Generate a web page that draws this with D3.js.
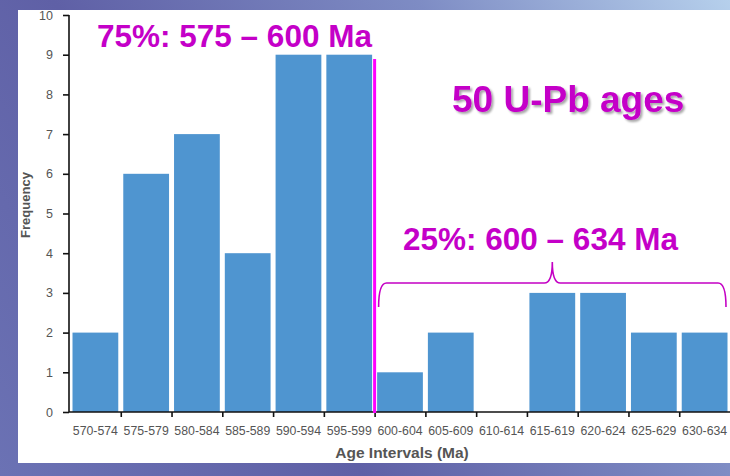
<!DOCTYPE html>
<html>
<head>
<meta charset="utf-8">
<script src="https://cdn.jsdelivr.net/npm/d3@7"></script>
<style>
  html, body { margin: 0; padding: 0; }
  body { width: 730px; height: 476px; overflow: hidden; }
  svg { display: block; font-family: "Liberation Sans", Arial, sans-serif; }
</style>
</head>
<body>
<svg id="chart" width="730" height="476"></svg>
<script>
// Zircon U-Pb age histogram (5 Ma bins)
const intervals = ["570-574", "575-579", "580-584", "585-589", "590-594", "595-599",
                   "600-604", "605-609", "610-614", "615-619", "620-624", "625-629", "630-634"];
const frequency = [2, 6, 7, 4, 9, 9, 1, 2, 0, 3, 3, 2, 2];
const yTicks = [0, 1, 2, 3, 4, 5, 6, 7, 8, 9, 10];
const olderLabel = "75%: 575 – 600 Ma";
const youngerLabel = "25%: 600 – 634 Ma";
const totalLabel = "50 U-Pb ages";
const splitInterval = "600-604";

const W = 730, H = 476;
const svg = d3.select("#chart");

// slide background
const defs = svg.append("defs");
const bg = defs.append("linearGradient").attr("id", "bg")
  .attr("gradientUnits", "userSpaceOnUse")
  .attr("x1", 0).attr("y1", H).attr("x2", W).attr("y2", 0);
bg.append("stop").attr("offset", 0).attr("stop-color", "#6b72b4");
bg.append("stop").attr("offset", 0.35).attr("stop-color", "#5f60a6");
bg.append("stop").attr("offset", 0.7).attr("stop-color", "#7e8cc4");
bg.append("stop").attr("offset", 1).attr("stop-color", "#b6d0ec");
svg.append("rect").attr("width", W).attr("height", H).attr("fill", "url(#bg)");

const shadow = defs.append("filter").attr("id", "shadow")
  .attr("x", "-10%").attr("y", "-20%").attr("width", "130%").attr("height", "150%");
shadow.append("feDropShadow").attr("dx", 2).attr("dy", 2).attr("stdDeviation", 1.2)
  .attr("flood-color", "#000").attr("flood-opacity", 0.35);

// white chart panel
svg.append("rect").attr("x", 18).attr("y", 10).attr("width", W - 18).attr("height", 453)
  .attr("fill", "#ffffff");

const x0 = 70, x1 = 730, yBase = 412, yTop = 15;
const x = d3.scaleBand().domain(intervals).range([x0, x1]).padding(0);
const xEdge = d3.scaleLinear().domain([0, intervals.length]).range([x0, x1]);
const y = d3.scaleLinear().domain([0, 10]).range([yBase, yTop]);
const bw = x.bandwidth();

// bars
svg.append("g").selectAll("rect").data(intervals).join("rect")
  .attr("x", d => x(d) + 2.5)
  .attr("width", bw - 5)
  .attr("y", (d, i) => y(frequency[i]))
  .attr("height", (d, i) => y(0) - y(frequency[i]))
  .attr("fill", "#4f95d0");

// y axis
const yAxis = svg.append("g").attr("transform", `translate(${x0 - 1},0)`)
  .call(d3.axisLeft(y).tickValues(yTicks).tickFormat(d3.format("d")).tickSize(6).tickPadding(10));
yAxis.select(".domain").attr("stroke", "#111").attr("stroke-width", 1.6)
  .attr("d", `M0,${yTop}V${yBase}`);
yAxis.selectAll(".tick line").attr("stroke", "#111").attr("stroke-width", 1.6);
yAxis.selectAll(".tick text").attr("fill", "#555").attr("font-size", 12.5)
  .attr("font-family", "'Liberation Sans', Arial, sans-serif");

// x axis: boundary ticks
const xTickAxis = svg.append("g").attr("transform", `translate(0,${yBase})`)
  .call(d3.axisBottom(xEdge).tickValues(d3.range(1, intervals.length)).tickFormat("").tickSize(5));
xTickAxis.select(".domain").attr("stroke", "#111").attr("stroke-width", 1.6)
  .attr("d", `M${x0 - 1},0H${x1}`);
xTickAxis.selectAll(".tick line").attr("stroke", "#111").attr("stroke-width", 1.6);

// x axis: interval labels
const xLab = svg.append("g").attr("transform", `translate(0,${yBase})`)
  .call(d3.axisBottom(x).tickSize(0).tickPadding(14));
xLab.select(".domain").remove();
xLab.selectAll(".tick text").attr("fill", "#555").attr("font-size", 12.3)
  .attr("font-family", "'Liberation Sans', Arial, sans-serif");

// axis titles
svg.append("text").attr("transform", "translate(30,205) rotate(-90)")
  .attr("text-anchor", "middle").attr("font-size", 13).attr("font-weight", "bold")
  .attr("fill", "#555").text("Frequency");
svg.append("text").attr("x", 402).attr("y", 458)
  .attr("text-anchor", "middle").attr("font-size", 15.5).attr("font-weight", "bold")
  .attr("fill", "#555").text("Age Intervals (Ma)");

// split line between older and younger populations
const xs = x(splitInterval);
svg.append("line").attr("x1", xs).attr("x2", xs).attr("y1", 59).attr("y2", yBase + 1)
  .attr("stroke", "#ff00ff").attr("stroke-width", 3);

// brace over younger intervals
const bL = x(splitInterval) + 4, bR = x(intervals[intervals.length - 1]) + bw - 4;
const bMid = (bL + bR) / 2, bY = 283, bBot = 307, tipY = 262;
const brace = d3.path();
brace.moveTo(bL, bBot);
brace.quadraticCurveTo(bL, bY, bL + 8, bY);
brace.lineTo(bMid - 8, bY);
brace.quadraticCurveTo(bMid, bY, bMid, tipY);
brace.quadraticCurveTo(bMid, bY, bMid + 8, bY);
brace.lineTo(bR - 8, bY);
brace.quadraticCurveTo(bR, bY, bR, bBot);
svg.append("path").attr("d", brace.toString()).attr("fill", "none")
  .attr("stroke", "#c400c4").attr("stroke-width", 1.6);

// annotations
const magenta = "#c400c8";
svg.append("text").attr("x", 97).attr("y", 47).attr("font-size", 31.5).attr("font-weight", "bold")
  .attr("fill", magenta).text(olderLabel);
svg.append("text").attr("x", 403).attr("y", 250).attr("font-size", 31.5).attr("font-weight", "bold")
  .attr("fill", magenta).text(youngerLabel);
svg.append("text").attr("x", 452).attr("y", 112).attr("font-size", 37).attr("font-weight", "bold")
  .attr("fill", magenta).attr("filter", "url(#shadow)").text(totalLabel);
</script>
</body>
</html>
